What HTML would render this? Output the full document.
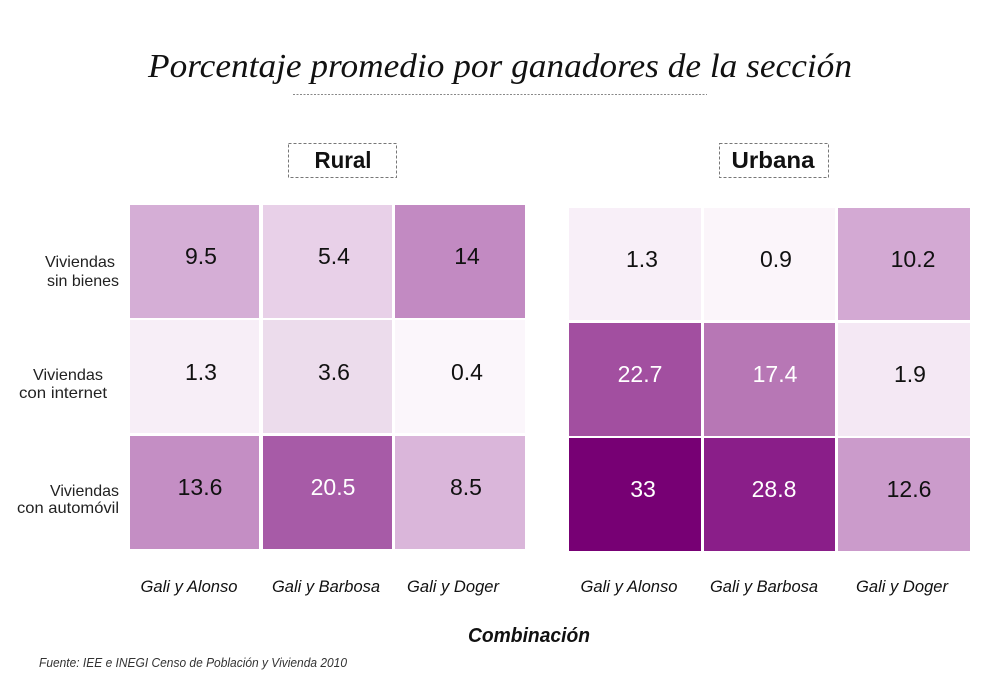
<!DOCTYPE html>
<html>
<head>
<meta charset="utf-8">
<style>
html,body{margin:0;padding:0;background:#fff;}
svg{display:block;}
</style>
</head>
<body>
<svg width="1000" height="694" viewBox="0 0 1000 694" xmlns="http://www.w3.org/2000/svg" font-family="Liberation Sans, sans-serif">
<rect width="1000" height="694" fill="#fff"/>
<!-- Title -->
<text x="148" y="77" style="font-family:'Liberation Serif',serif;font-style:italic;font-size:34px" fill="#111" textLength="704" lengthAdjust="spacingAndGlyphs">Porcentaje promedio por ganadores de la sección</text>
<line x1="293" y1="94.5" x2="707" y2="94.5" stroke="#888" stroke-width="1" stroke-dasharray="2,1.5"/>

<!-- Panel headers -->
<rect x="288.5" y="143.5" width="108" height="34" fill="none" stroke="#777" stroke-width="1" stroke-dasharray="3,2"/>
<text x="343" y="168" font-size="23" font-weight="bold" text-anchor="middle" fill="#111" textLength="57" lengthAdjust="spacingAndGlyphs">Rural</text>
<rect x="719.5" y="143.5" width="109" height="34" fill="none" stroke="#777" stroke-width="1" stroke-dasharray="3,2"/>
<text x="773" y="168" font-size="23" font-weight="bold" text-anchor="middle" fill="#111" textLength="83" lengthAdjust="spacingAndGlyphs">Urbana</text>

<!-- Row labels -->
<g font-size="16" fill="#222">
<text x="45" y="267" textLength="70" lengthAdjust="spacingAndGlyphs">Viviendas</text>
<text x="47" y="286" textLength="72" lengthAdjust="spacingAndGlyphs">sin bienes</text>
<text x="33" y="380" textLength="70" lengthAdjust="spacingAndGlyphs">Viviendas</text>
<text x="19" y="398" textLength="88" lengthAdjust="spacingAndGlyphs">con internet</text>
<text x="50" y="496" textLength="69" lengthAdjust="spacingAndGlyphs">Viviendas</text>
<text x="17" y="513" textLength="102" lengthAdjust="spacingAndGlyphs">con automóvil</text>
</g>

<!-- Rural cells -->
<rect x="130" y="205" width="129" height="113" fill="#d5aed6"/>
<rect x="263" y="205" width="129" height="113" fill="#e8d0e8"/>
<rect x="395" y="205" width="130" height="113" fill="#c28ac2"/>
<rect x="130" y="320" width="129" height="113" fill="#f7eef7"/>
<rect x="263" y="320" width="129" height="113" fill="#ecdcec"/>
<rect x="395" y="320" width="130" height="113" fill="#fbf6fb"/>
<rect x="130" y="436" width="129" height="113" fill="#c48ec4"/>
<rect x="263" y="436" width="129" height="113" fill="#a75ba7"/>
<rect x="395" y="436" width="130" height="113" fill="#dab6da"/>

<!-- Urbana cells -->
<rect x="569" y="208" width="132" height="112" fill="#f8eff8"/>
<rect x="704" y="208" width="131" height="112" fill="#fbf5fa"/>
<rect x="838" y="208" width="132" height="112" fill="#d3a9d3"/>
<rect x="569" y="323" width="132" height="113" fill="#a24fa0"/>
<rect x="704" y="323" width="131" height="113" fill="#b777b5"/>
<rect x="838" y="323" width="132" height="113" fill="#f4e8f4"/>
<rect x="569" y="438" width="132" height="113" fill="#770074"/>
<rect x="704" y="438" width="131" height="113" fill="#8a1e89"/>
<rect x="838" y="438" width="132" height="113" fill="#cb9bcb"/>

<!-- Values -->
<g font-size="23" text-anchor="middle">
<text x="201" y="264" fill="#111">9.5</text>
<text x="334" y="264" fill="#111">5.4</text>
<text x="467" y="264" fill="#111">14</text>
<text x="201" y="380" fill="#111">1.3</text>
<text x="334" y="380" fill="#111">3.6</text>
<text x="467" y="380" fill="#111">0.4</text>
<text x="200" y="495" fill="#111">13.6</text>
<text x="333" y="495" fill="#fff">20.5</text>
<text x="466" y="495" fill="#111">8.5</text>

<text x="642" y="267" fill="#111">1.3</text>
<text x="776" y="267" fill="#111">0.9</text>
<text x="913" y="267" fill="#111">10.2</text>
<text x="640" y="382" fill="#fff">22.7</text>
<text x="775" y="382" fill="#fff">17.4</text>
<text x="910" y="382" fill="#111">1.9</text>
<text x="643" y="497" fill="#fff">33</text>
<text x="774" y="497" fill="#fff">28.8</text>
<text x="909" y="497" fill="#111">12.6</text>
</g>

<!-- Column labels -->
<g font-size="17" font-style="italic" fill="#111" text-anchor="middle">
<text x="189" y="592" textLength="97" lengthAdjust="spacingAndGlyphs">Gali y Alonso</text>
<text x="326" y="592" textLength="108" lengthAdjust="spacingAndGlyphs">Gali y Barbosa</text>
<text x="453" y="592" textLength="92" lengthAdjust="spacingAndGlyphs">Gali y Doger</text>
<text x="629" y="592" textLength="97" lengthAdjust="spacingAndGlyphs">Gali y Alonso</text>
<text x="764" y="592" textLength="108" lengthAdjust="spacingAndGlyphs">Gali y Barbosa</text>
<text x="902" y="592" textLength="92" lengthAdjust="spacingAndGlyphs">Gali y Doger</text>
</g>

<text x="468" y="642" font-size="20" font-weight="bold" font-style="italic" fill="#111" textLength="122" lengthAdjust="spacingAndGlyphs">Combinación</text>

<text x="39" y="667" font-size="12.5" font-style="italic" fill="#333" textLength="308" lengthAdjust="spacingAndGlyphs">Fuente:  IEE e INEGI Censo de Población y Vivienda 2010</text>
</svg>
</body>
</html>
